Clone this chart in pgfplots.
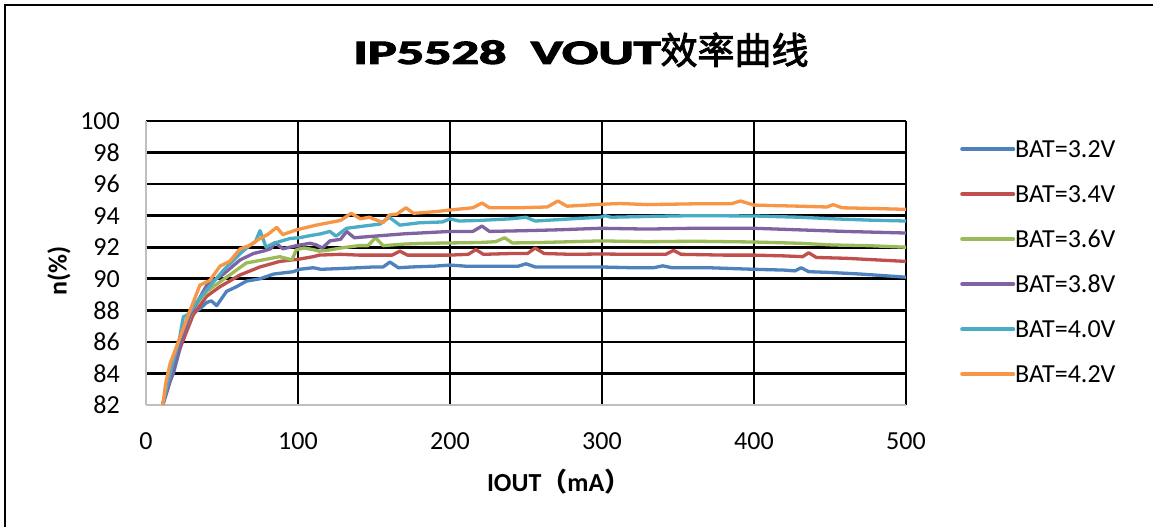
\documentclass[border=0pt]{standalone}
\usepackage{pgfplots}
\pgfplotsset{compat=1.18}
\usepackage{graphicx}
\usepackage{fontspec}
\setmainfont{Carlito}
\newfontfamily\titlefont{Carlito Bold}
\newfontfamily\cjk{Noto Sans CJK SC}
\definecolor{c1}{HTML}{4F81BD}
\definecolor{c2}{HTML}{C0504D}
\definecolor{c3}{HTML}{9BBB59}
\definecolor{c4}{HTML}{8064A2}
\definecolor{c5}{HTML}{4BACC6}
\definecolor{c6}{HTML}{F79646}
\begin{document}
\begin{tikzpicture}
\useasboundingbox (0,0) rectangle (1153pt,527pt);
\fill[white] (0,0) rectangle (1153pt,527pt);
\draw[line width=1.5pt] (5pt,0pt) -- (5pt,522pt) -- (1153pt,522pt);
\node[inner sep=0pt, anchor=base] at (581pt,463pt) {\special{pdf:literal 2 Tr 0.9 w}\scalebox{1.66}[1.05]{\titlefont\fontsize{32.6pt}{36pt}\selectfont IP5528\hspace{14.7pt}VOUT}{\cjk\fontsize{37pt}{40pt}\selectfont 效率曲线}\special{pdf:literal 0 Tr}};
\begin{axis}[
  at={(146pt,122pt)}, anchor=south west,
  scale only axis, width=760pt, height=284pt,
  xmin=0, xmax=500, ymin=82, ymax=100,
  xtick={100,200,...,500}, ytick={84,86,...,100},
  extra x ticks={0}, extra y ticks={82},
  extra tick style={grid=none},
  axis x line=bottom, axis y line=left,
  axis line style={-, draw=black!25, line width=1.5pt},
  major tick length=0pt,
  xmajorgrids, ymajorgrids,
  x grid style={black, line width=1.5pt},
  y grid style={black, line width=2.6pt},
  /pgf/number format/assume math mode=true,
  tick label style={font=\fontsize{26pt}{30pt}\selectfont, inner sep=0pt},
  yticklabel style={xshift=-26pt},
  xticklabel style={yshift=-27pt},
  xlabel={\bfseries IOUT{\cjk（}mA{\cjk）}},
  ylabel={\bfseries n(\%)},
  label style={font=\fontsize{26pt}{30pt}\selectfont},
  xlabel style={at={(axis description cs:0.543,-0.271)}, anchor=center},
  ylabel style={at={(axis description cs:-0.1145,0.472)}, anchor=center},
  legend style={at={(1.0711,0.931)}, anchor=north west, draw=none, fill=none,
    font=\fontsize{26pt}{30pt}\selectfont, inner sep=0pt, row sep=28pt,
    nodes={inner sep=0pt, text height=17pt, text depth=0pt},
    /tikz/column 2/.style={column sep=7pt}},
  legend cell align=left,
  legend image code/.code={\draw[#1, line width=4pt, line cap=round] (1pt,0pt) -- (52pt,0pt);},
  every axis plot/.append style={line width=3.3pt, line join=round},
]
\addplot[c1] coordinates {(11,82)(14,83.1)(18,84.0)(23,85.8)(29,87.7)(35.5,88.1)(40,88.5)(43,88.6)(46.5,88.3)(53,89.2)(59.6,89.5)(66,89.85)(75,90.0)(84,90.3)(97,90.45)(101,90.6)(110,90.7)(115,90.6)(128,90.65)(140,90.7)(150,90.75)(156,90.75)(160.5,91.06)(166,90.7)(175,90.75)(190,90.8)(200,90.87)(210,90.8)(230,90.8)(245,90.8)(250,90.95)(256,90.75)(275,90.75)(298,90.75)(320,90.7)(334,90.7)(340,90.82)(346,90.7)(370,90.7)(385,90.65)(400,90.6)(420,90.55)(427,90.5)(431,90.7)(436,90.45)(450,90.4)(470,90.3)(485,90.2)(500,90.1)};
\addlegendentry{BAT=3.2V}
\addplot[c2] coordinates {(11,82)(15,83.6)(22,85.5)(31,87.7)(40,88.9)(48.7,89.5)(62,90.25)(75,90.75)(88,91.1)(101,91.25)(110,91.4)(114,91.5)(128,91.55)(140,91.5)(155,91.5)(162,91.5)(167,91.75)(172,91.5)(190,91.5)(200,91.5)(212,91.55)(217,91.85)(222,91.55)(240,91.6)(251,91.6)(256,91.95)(262,91.6)(280,91.55)(299,91.57)(320,91.55)(342,91.55)(347,91.8)(352,91.55)(380,91.5)(400,91.5)(420,91.45)(432,91.4)(436,91.65)(441,91.35)(460,91.3)(480,91.2)(500,91.1)};
\addlegendentry{BAT=3.4V}
\addplot[c3] coordinates {(11,82)(15,83.3)(22,85.9)(31,88.1)(40,89.2)(53,90.1)(66,91.0)(77,91.2)(88,91.4)(96,91.2)(99,91.85)(104,91.95)(110,91.85)(114,91.75)(119,91.8)(128,91.95)(140,92.1)(146,92.1)(151,92.6)(156,92.1)(170,92.2)(185,92.25)(200,92.27)(220,92.3)(230,92.35)(236,92.6)(241,92.27)(260,92.3)(280,92.35)(299,92.4)(330,92.35)(360,92.38)(400,92.33)(430,92.25)(452,92.14)(475,92.1)(500,92.0)};
\addlegendentry{BAT=3.6V}
\addplot[c4] coordinates {(11,82)(14,82.9)(18,84.2)(23,86.0)(29,87.7)(40,89.6)(51,90.3)(62,91.2)(70.6,91.6)(77,91.75)(82,91.9)(85,92.3)(90,91.9)(99,92.1)(108,92.25)(112,92.15)(116,91.95)(121,92.4)(128,92.5)(132,93.0)(137,92.6)(150,92.7)(170,92.85)(190,92.95)(200,93.0)(215,93.0)(221,93.34)(226,93.0)(250,93.05)(270,93.1)(299,93.2)(330,93.15)(360,93.2)(400,93.2)(430,93.1)(460,93.0)(500,92.9)};
\addlegendentry{BAT=3.8V}
\addplot[c5] coordinates {(11,82)(14,83.3)(18,84.8)(22,86.2)(24.6,87.6)(27,87.7)(29,87.9)(34,88.6)(40,89.3)(51,90.55)(62,91.6)(68,92.1)(72,92.35)(75,93.05)(79,92.0)(84,92.25)(95,92.56)(101,92.6)(106,92.7)(115,92.85)(121,93.0)(125,92.7)(132,93.2)(140,93.3)(154,93.47)(160,93.9)(167,93.4)(180,93.55)(195,93.6)(200,93.8)(206,93.66)(220,93.7)(240,93.8)(250,93.9)(256,93.66)(280,93.8)(299,93.9)(302,94.0)(306,93.9)(330,93.95)(360,94.0)(400,93.98)(430,93.9)(452,93.8)(475,93.72)(500,93.66)};
\addlegendentry{BAT=4.0V}
\addplot[c6] coordinates {(11,82)(13,83.4)(15.8,84.6)(22.4,86.3)(29,88.0)(35.5,89.6)(42,89.9)(48.7,90.8)(55,91.1)(62,91.9)(68,92.1)(75,92.55)(80,92.8)(86,93.26)(90,92.8)(99,93.1)(112,93.4)(128,93.7)(135,94.15)(141,93.8)(147,93.9)(156,93.55)(160,94.04)(165,94.1)(171,94.5)(176,94.15)(190,94.25)(200,94.36)(215,94.5)(221,94.8)(226,94.5)(245,94.5)(264,94.55)(271,94.93)(277,94.6)(299,94.72)(312,94.77)(330,94.7)(360,94.75)(385,94.75)(391,94.93)(400,94.67)(430,94.6)(448,94.55)(452,94.7)(458,94.5)(480,94.45)(500,94.4)};
\addlegendentry{BAT=4.2V}
\end{axis}
\end{tikzpicture}
\end{document}
